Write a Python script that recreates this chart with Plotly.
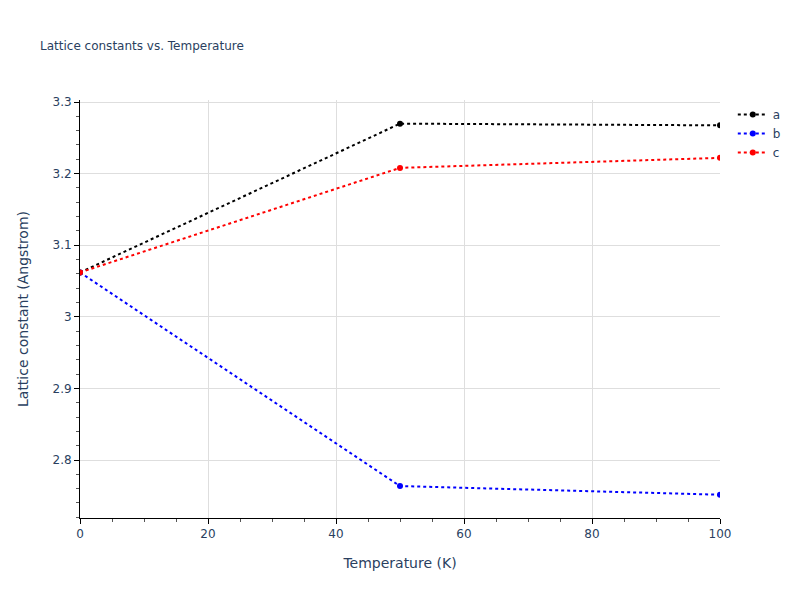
import plotly.graph_objects as go

temperature = [0, 50, 100]
a_vals = [3.062, 3.2698, 3.2674]
b_vals = [3.062, 2.7636, 2.7515]
c_vals = [3.062, 3.208, 3.222]
series_names = ["a", "b", "c"]
series_colors = ["black", "blue", "red"]

fig = go.Figure()
for name, vals, col in zip(series_names, [a_vals, b_vals, c_vals], series_colors):
    fig.add_trace(go.Scatter(
        x=temperature, y=vals, name=name, mode="lines+markers",
        line=dict(color=col, width=2, dash="dot"),
        marker=dict(color=col, size=6),
    ))

axis_common = dict(
    showline=True, linecolor="black", linewidth=1,
    ticks="outside", tickcolor="black", ticklen=5,
    showgrid=True, gridcolor="#dedede", gridwidth=1,
    zeroline=False,
    minor=dict(ticks="outside", ticklen=3, tickcolor="#555555", showgrid=False),
)

fig.update_layout(
    template="plotly_white",
    width=800, height=600,
    font=dict(family="DejaVu Sans"),
    title=dict(text="Lattice constants vs. Temperature", font=dict(size=12),
               x=0.04, xanchor="left", y=0.937, yanchor="middle"),
    xaxis=dict(title=dict(text="Temperature (K)", font=dict(size=14), standoff=17),
               range=[0, 100], dtick=20, **axis_common),
    yaxis=dict(title=dict(text="Lattice constant (Angstrom)", font=dict(size=14), standoff=20),
               range=[2.719, 3.3028], dtick=0.1, **axis_common),
    margin=dict(l=72, r=88, t=92, b=90),
)
fig.update_xaxes(minor=dict(dtick=5))
fig.update_yaxes(minor=dict(dtick=0.02))

fig.write_html("out.html")
